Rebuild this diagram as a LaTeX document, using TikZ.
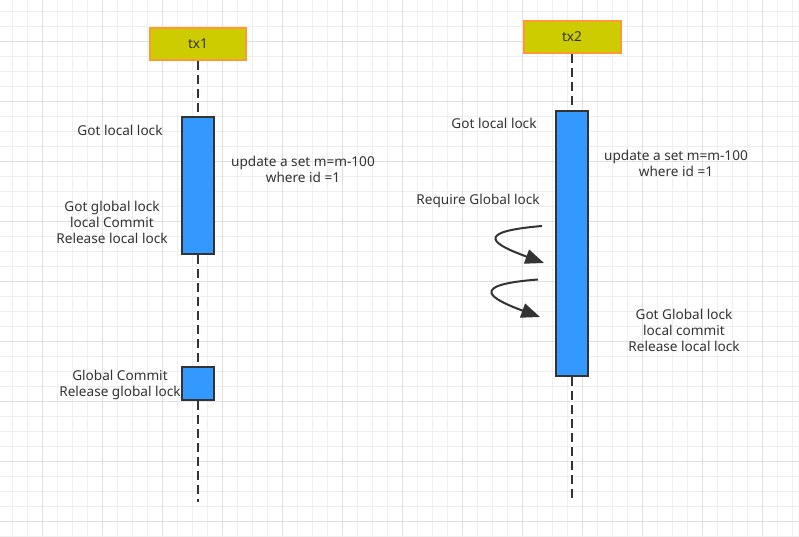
\documentclass[tikz,border=0pt]{standalone}
\usepackage{fontspec}
\setmainfont{Noto Sans}
\usetikzlibrary{arrows.meta}
\definecolor{gridminor}{HTML}{EFEFEF}
\definecolor{gridmajor}{HTML}{E0E0E0}
\definecolor{headfill}{HTML}{CCCC00}
\definecolor{headline}{HTML}{FF9933}
\definecolor{actfill}{HTML}{3399FF}
\definecolor{ink}{HTML}{333333}
\tikzset{
  headbox/.style={draw=headline, fill=headfill, line width=1.5pt, minimum width=72pt, minimum height=24pt, inner sep=0pt, text=ink, font=\fontsize{10.2}{12}\selectfont},
  actbox/.style={draw=ink, fill=actfill, line width=1.5pt, minimum width=24pt, inner sep=0pt},
  lifeline/.style={draw=ink, line width=1.5pt, dash pattern=on 6.75pt off 3.75pt},
  lbl/.style={text=ink, align=center, font=\fontsize{10.2}{12}\selectfont, inner sep=0pt},
  selfarrow/.style={draw=ink, line width=1.5pt, -{Triangle[length=14pt,width=11pt]}}
}
\begin{document}
\begin{tikzpicture}[x=0.75pt,y=-0.75pt]
\useasboundingbox (0,0) rectangle (799,536);
\fill[white] (0,0) rectangle (799,536);
% grid
\foreach \i in {0,...,53} {\draw[gridminor, line width=0.75pt] (12.7+15*\i,0) -- (12.7+15*\i,536);}
\foreach \j in {0,...,35} {\draw[gridminor, line width=0.75pt] (0,11+15*\j) -- (799,11+15*\j);}
\foreach \i in {0,...,12} {\draw[gridmajor, line width=0.75pt] (42.7+60*\i,0) -- (42.7+60*\i,536);}
\foreach \j in {0,...,8} {\draw[gridmajor, line width=0.75pt] (0,41+60*\j) -- (799,41+60*\j);}

% tx1
\node[headbox] (tx1) at (198,44) {tx1};
\node[actbox, minimum height=102.75pt] (a1) at (198,185.5) {};
\node[actbox, minimum height=24.75pt] (a2) at (198,383.5) {};
\coordinate (e1) at (198,502);
\draw[lifeline] (tx1.south) -- (a1.north);
\draw[lifeline] (a1.south) -- (a2.north);
\draw[lifeline] (a2.south) -- (e1);

% tx2
\node[headbox, minimum width=72.75pt] (tx2) at (572,37) {tx2};
\node[actbox, minimum height=198.75pt] (a3) at (572,243.5) {};
\coordinate (e2) at (572,500);
\draw[lifeline] (tx2.south) -- (a3.north);
\draw[lifeline] (a3.south) -- (e2);

% labels tx1
\node[lbl] (l1) at (120,130) {Got local lock};
\node[lbl] (l2) at (303,169) {update a set m=m-100\\where id =1};
\node[lbl] (l3) at (112,222) {Got global lock\\local Commit\\Release local lock};
\node[lbl] (l4) at (120,384.5) {Global Commit\\Release global lock};

% labels tx2
\node[lbl] (l5) at (494,123.5) {Got local lock};
\node[lbl] (l6) at (676,163) {update a set m=m-100\\where id =1};
\node[lbl] (l7) at (478,200.5) {Require Global lock};
\node[lbl] (l8) at (684,330) {Got Global lock\\local commit\\Release local lock};

% self arrows
\coordinate (c1s) at (542,226);
\coordinate (c1e) at (544,263);
\coordinate (c2s) at (538,279.5);
\coordinate (c2e) at (540,317);
\draw[selfarrow] (c1s) .. controls (470,232) and (495,245) .. (c1e);
\draw[selfarrow] (c2s) .. controls (466,285) and (491,299) .. (c2e);
\end{tikzpicture}
\end{document}
